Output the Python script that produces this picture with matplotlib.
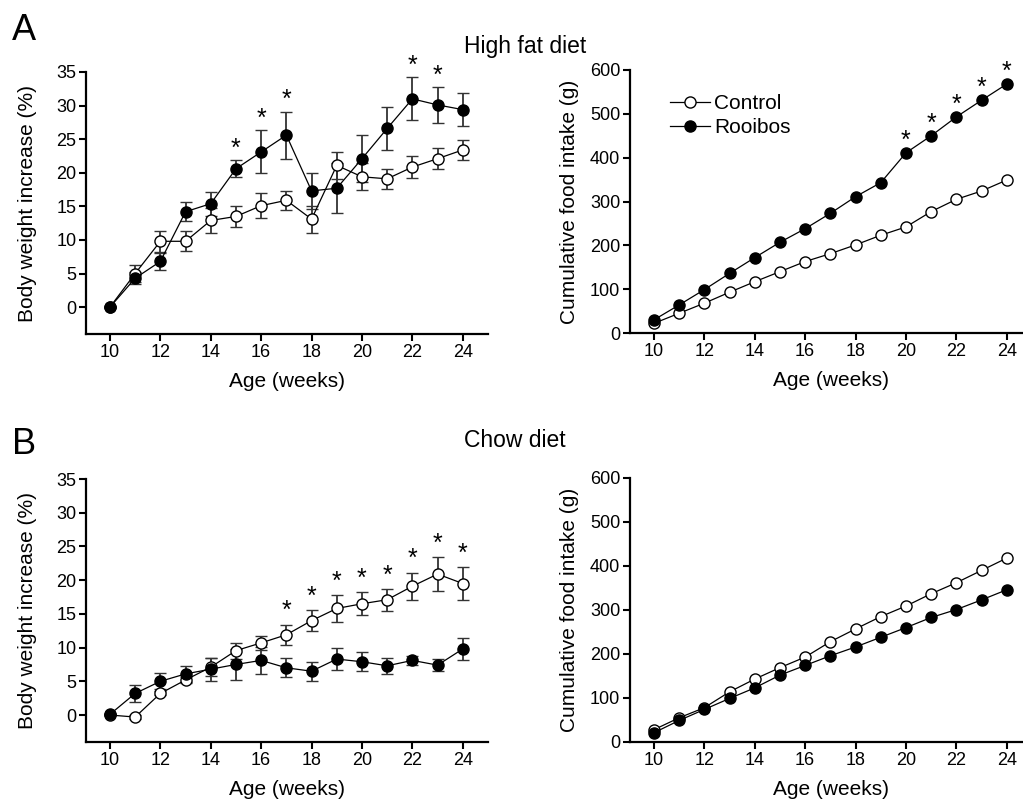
import numpy as np
import matplotlib
matplotlib.use("Agg")
import matplotlib.pyplot as plt
from matplotlib.lines import Line2D

plt.rcParams["font.family"] = ["Liberation Sans", "DejaVu Sans"]

weeks = np.arange(10, 25)

# A: high fat diet, body weight increase (%)
hfd_bw_ctrl = [0, 5.0, 9.8, 9.8, 12.9, 13.5, 15.1, 15.9, 13.1, 21.1, 19.4, 19.1, 20.85, 22.1, 23.4]
hfd_bw_ctrl_err = [0, 1.2, 1.6, 1.5, 1.8, 1.6, 1.9, 1.4, 2.0, 2.0, 2.0, 1.5, 1.6, 1.6, 1.5]
hfd_bw_roo = [0, 4.3, 6.8, 14.2, 15.4, 20.6, 23.1, 25.6, 17.3, 17.7, 22.1, 26.6, 31.0, 30.1, 29.4]
hfd_bw_roo_err = [0, 0.9, 1.2, 1.4, 1.8, 1.3, 3.2, 3.5, 2.7, 3.7, 3.5, 3.2, 3.2, 2.7, 2.4]
hfd_bw_sig = [15, 16, 17, 22, 23]

# A: high fat diet, cumulative food intake (g)
hfd_fi_ctrl = [22, 45, 68, 93, 117, 140, 163, 181, 201, 223, 242, 277, 305, 324, 349]
hfd_fi_roo = [30, 64, 99, 136, 172, 207, 238, 273, 311, 343, 411, 450, 493, 531, 568]
hfd_fi_sig = [20, 21, 22, 23, 24]

# B: chow diet, body weight increase (%)
chow_bw_ctrl = [0, -0.3, 3.2, 5.2, 7.1, 9.55, 10.7, 11.9, 14.0, 15.8, 16.5, 17.1, 19.1, 20.9, 19.5]
chow_bw_ctrl_err = [0, 0.3, 0.3, 0.5, 1.3, 1.2, 1.0, 1.5, 1.6, 2.0, 1.7, 1.6, 2.0, 2.5, 2.4]
chow_bw_roo = [0.1, 3.2, 5.0, 6.1, 6.8, 7.5, 8.1, 7.0, 6.5, 8.3, 7.9, 7.3, 8.1, 7.4, 9.8]
chow_bw_roo_err = [0, 1.2, 1.2, 1.2, 1.7, 2.3, 2.0, 1.4, 1.4, 1.6, 1.4, 1.2, 0.7, 0.9, 1.6]
chow_bw_sig = [17, 18, 19, 20, 21, 22, 23, 24]

# B: chow diet, cumulative food intake (g)
chow_fi_ctrl = [28, 55, 78, 114, 143, 169, 193, 228, 257, 285, 309, 337, 362, 390, 418]
chow_fi_roo = [21, 49, 74, 99, 123, 152, 174, 196, 216, 238, 260, 283, 301, 323, 346]

W, H = 1023, 800
fig = plt.figure(figsize=(W / 100, H / 100), dpi=100)


def px_axes(l, t, r, b):
    return fig.add_axes([l / W, 1 - b / H, (r - l) / W, (b - t) / H])


def style(ax, ylim, yticks, ylabel, ypad):
    for s in ("top", "right"):
        ax.spines[s].set_visible(False)
    for s in ("left", "bottom"):
        ax.spines[s].set_linewidth(1.6)
    ax.set_xlim(9.05, 25)
    ax.set_ylim(*ylim)
    ax.set_xticks(range(10, 25, 2))
    ax.set_yticks(yticks)
    ax.tick_params(direction="out", length=5, width=1.5, labelsize=13, pad=2)
    ax.set_xlabel("Age (weeks)", fontsize=15, labelpad=8)
    ax.set_ylabel(ylabel, fontsize=15, labelpad=ypad)


def series(ax, y, err, filled):
    kw = dict(color="black", lw=0.9, marker="o", ms=8, mec="black", mew=1.0,
              mfc="black" if filled else "white")
    if err is not None:
        ax.errorbar(weeks, y, yerr=err, ecolor="#333333", elinewidth=1.3,
                    capsize=4.5, capthick=1.3, **kw)
    else:
        ax.plot(weeks, y, **kw)


def stars(ax, xs, y, err, off):
    for x in xs:
        i = list(weeks).index(x)
        top = y[i] + (err[i] if err is not None else 0)
        ax.annotate("*", (x, top), xytext=(0, off), textcoords="offset points",
                    ha="center", va="bottom", fontsize=18)


ax1 = px_axes(86, 72, 488, 334)
series(ax1, hfd_bw_ctrl, hfd_bw_ctrl_err, False)
series(ax1, hfd_bw_roo, hfd_bw_roo_err, True)
stars(ax1, hfd_bw_sig, hfd_bw_roo, hfd_bw_roo_err, -0.5)
style(ax1, (-4, 35), range(0, 36, 5), "Body weight increase (%)", 14)

ax2 = px_axes(630, 70, 1032, 333)
series(ax2, hfd_fi_ctrl, None, False)
series(ax2, hfd_fi_roo, None, True)
stars(ax2, hfd_fi_sig, hfd_fi_roo, None, 0)
style(ax2, (0, 600), range(0, 601, 100), "Cumulative food intake (g)", 8)
handles = [Line2D([], [], color="black", lw=0.9, marker="o", ms=8, mec="black", mfc="white"),
           Line2D([], [], color="black", lw=0.9, marker="o", ms=8, mec="black", mfc="black")]
ax2.legend(handles, ["Control", "Rooibos"], loc="upper left", bbox_to_anchor=(0.08, 0.94),
           frameon=False, fontsize=15, handlelength=1.9, handletextpad=0.2,
           labelspacing=0.25, borderaxespad=0)

ax3 = px_axes(86, 479, 488, 742)
series(ax3, chow_bw_ctrl, chow_bw_ctrl_err, False)
series(ax3, chow_bw_roo, chow_bw_roo_err, True)
stars(ax3, chow_bw_sig, chow_bw_ctrl, chow_bw_ctrl_err, 1)
style(ax3, (-4, 35), range(0, 36, 5), "Body weight increase (%)", 14)

ax4 = px_axes(630, 478, 1032, 742)
series(ax4, chow_fi_ctrl, None, False)
series(ax4, chow_fi_roo, None, True)
style(ax4, (0, 600), range(0, 601, 100), "Cumulative food intake (g)", 8)

narrow = ["Liberation Sans Narrow", "Liberation Sans"]
fig.text(12 / W, 1 - 30 / H, "A", fontsize=26, family=narrow, va="center")
fig.text(12 / W, 1 - 444 / H, "B", fontsize=26, family=narrow, va="center")
fig.text(525 / W, 1 - 47 / H, "High fat diet", fontsize=16.5, family=narrow, ha="center", va="center")
fig.text(515 / W, 1 - 440 / H, "Chow diet", fontsize=16.5, family=narrow, ha="center", va="center")

fig.savefig("out.png", dpi=100)
